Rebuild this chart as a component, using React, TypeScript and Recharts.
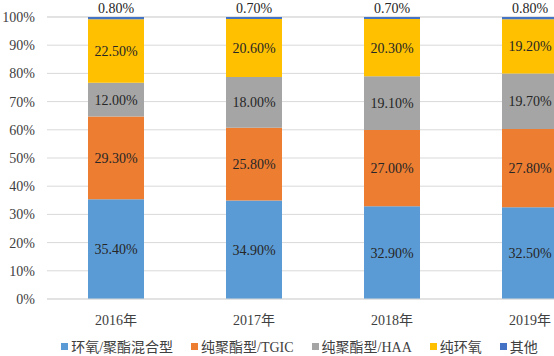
import { BarChart, Bar, XAxis, YAxis, CartesianGrid, Legend, LabelList } from 'recharts';

const years = ['2016年', '2017年', '2018年', '2019年'];
const hybrid = [35.4, 34.9, 32.9, 32.5];
const tgic = [29.3, 25.8, 27.0, 27.8];
const haa = [12.0, 18.0, 19.1, 19.7];
const epoxy = [22.5, 20.6, 20.3, 19.2];
const other = [0.8, 0.7, 0.7, 0.8];
const yTicks = [0, 10, 20, 30, 40, 50, 60, 70, 80, 90, 100];

const series = [
	{ key: 'hybrid', name: '环氧/聚酯混合型', color: '#5B9BD5' },
	{ key: 'tgic', name: '纯聚酯型/TGIC', color: '#ED7D31' },
	{ key: 'haa', name: '纯聚酯型/HAA', color: '#A5A5A5' },
	{ key: 'epoxy', name: '纯环氧', color: '#FFC000' },
	{ key: 'other', name: '其他', color: '#4472C4' },
];

const data = years.map((year, i) => ({
	year,
	hybrid: hybrid[i],
	tgic: tgic[i],
	haa: haa[i],
	epoxy: epoxy[i],
	other: other[i],
}));

const font = "'Liberation Serif', 'DejaVu Serif', serif, 'Noto Sans CJK SC'";
const fmt = (v: any) => `${Number(v).toFixed(2)}%`;

const LegendContent = () => (
	<div
		style={{
			display: 'flex',
			justifyContent: 'center',
			alignItems: 'center',
			height: 20,
			fontFamily: font,
			fontSize: 14,
			color: '#404040',
		}}
	>
		{series.map((s) => (
			<div key={s.key} style={{ display: 'flex', alignItems: 'center', margin: '0 9px' }}>
				<span style={{ width: 7, height: 7, background: s.color, marginRight: 3 }} />
				<span>{s.name}</span>
			</div>
		))}
	</div>
);

export default function App() {
	return (
		<div
			style={{
				position: 'absolute',
				left: 0,
				top: 0,
				width: 554,
				height: 356,
				overflow: 'hidden',
				background: '#fff',
				fontFamily: font,
			}}
		>
			<BarChart
				width={610}
				height={356}
				data={data}
				margin={{ top: 17, right: 11, left: 0, bottom: 0 }}
				style={{ fontFamily: font }}
			>
				<CartesianGrid vertical={false} stroke="#D9D9D9" />
				<XAxis
					dataKey="year"
					height={37}
					tickLine={false}
					axisLine={{ stroke: '#D9D9D9' }}
					tickMargin={10}
					tick={{ fill: '#404040', fontSize: 14, style: { fontFamily: font } }}
				/>
				<YAxis
					width={47}
					domain={[0, 100]}
					ticks={yTicks}
					tickFormatter={(v) => `${v}%`}
					axisLine={false}
					tickLine={false}
					tickMargin={6}
					tick={{ fill: '#404040', fontSize: 14, style: { fontFamily: font } }}
				/>
				<Legend verticalAlign="bottom" height={20} content={<LegendContent />} />
				{series.map((s, idx) => (
					<Bar
						key={s.key}
						dataKey={s.key}
						name={s.name}
						stackId="a"
						fill={s.color}
						barSize={56}
						isAnimationActive={false}
					>
						<LabelList
							dataKey={s.key}
							position={idx === series.length - 1 ? 'top' : 'center'}
							offset={4}
							formatter={fmt}
							fill="#262626"
							fontSize={14}
							style={{ fontFamily: font }}
						/>
					</Bar>
				))}
			</BarChart>
		</div>
	);
}
